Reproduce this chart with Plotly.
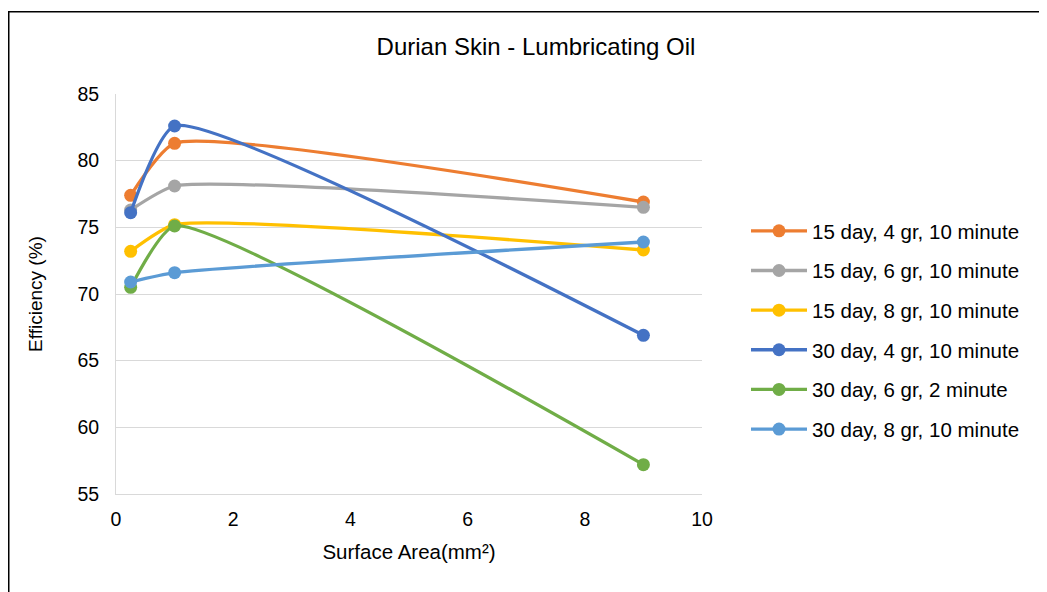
import plotly.graph_objects as go

surface_area = [0.25, 1, 9]
series_names = [
    "15 day, 4 gr, 10 minute",
    "15 day, 6 gr, 10 minute",
    "15 day, 8 gr, 10 minute",
    "30 day, 4 gr, 10 minute",
    "30 day, 6 gr, 2 minute",
    "30 day, 8 gr, 10 minute",
]
eff_15d_4gr = [77.4, 81.3, 76.9]
eff_15d_6gr = [76.3, 78.1, 76.5]
eff_15d_8gr = [73.2, 75.2, 73.3]
eff_30d_4gr = [76.1, 82.6, 66.9]
eff_30d_6gr = [70.5, 75.1, 57.2]
eff_30d_8gr = [70.9, 71.6, 73.9]
series_values = [eff_15d_4gr, eff_15d_6gr, eff_15d_8gr, eff_30d_4gr, eff_30d_6gr, eff_30d_8gr]
colors = ["#ED7D31", "#A5A5A5", "#FFC000", "#4472C4", "#70AD47", "#5B9BD5"]

x_ticks = [0, 2, 4, 6, 8, 10]
y_ticks = [55, 60, 65, 70, 75, 80, 85]

FONT = "Liberation Sans, Arial, sans-serif"

fig = go.Figure()
for i, (name, vals, col) in enumerate(zip(series_names, series_values, colors)):
    fig.add_trace(go.Scatter(
        x=surface_area, y=vals, name=name, mode="lines+markers",
        line=dict(color=col, width=3.3, shape="spline", smoothing=0.5),
        marker=dict(color=col, size=13),
        legendgroup=f"g{i}",
    ))

OFF = 8  # page body margin
W, H = 1047 - OFF, 592 - OFF
PL, PR, PT, PB = 116 - OFF, 702 - OFF, 94 - OFF, 494 - OFF
L, R, T, B = PL, W - PR, PT, H - PB
pw, ph = PR - PL, PB - PT

def px_x(p):
    return (p - OFF - L) / pw

def px_y(p):
    return (H - B - (p - OFF)) / ph

fig.update_layout(
    width=W, height=H,
    margin=dict(l=L, r=R, t=T, b=B, autoexpand=False),
    paper_bgcolor="white", plot_bgcolor="white",
    font=dict(family=FONT, size=19.5, color="#000000"),
    title=dict(text="Durian Skin - Lumbricating Oil", x=(536 - OFF) / W, xanchor="center",
               y=1 - (47 - OFF) / H, yanchor="middle", font=dict(size=24, color="#000000")),
    showlegend=True,
    legend=dict(x=px_x(746), xanchor="left", y=px_y(211), yanchor="top",
                font=dict(size=20.5), tracegroupgap=10, itemwidth=56,
                bgcolor="rgba(0,0,0,0)", itemclick=False),
    xaxis=dict(range=[0, 10], tickvals=x_ticks, showgrid=False, zeroline=False,
               showline=True, linecolor="#D9D9D9", linewidth=1,
               ticks="outside", ticklen=8, tickcolor="rgba(0,0,0,0)",
               title=dict(text="Surface Area(mm²)", standoff=15, font=dict(size=20.5))),
    yaxis=dict(range=[55, 85], tickvals=y_ticks, showgrid=True, gridcolor="#D9D9D9",
               gridwidth=1, zeroline=False, showline=True, linecolor="#D9D9D9", linewidth=1,
               ticks="outside", ticklen=12, tickcolor="rgba(0,0,0,0)",
               title=dict(text="Efficiency (%)", standoff=29, font=dict(size=19))),
    shapes=[dict(type="rect", xref="paper", yref="paper",
                 x0=px_x(8.75), x1=px_x(1200), y0=px_y(700), y1=px_y(11.75),
                 line=dict(color="#000000", width=1.5), fillcolor="rgba(0,0,0,0)",
                 layer="above")],
)

fig.write_html("out.html")
